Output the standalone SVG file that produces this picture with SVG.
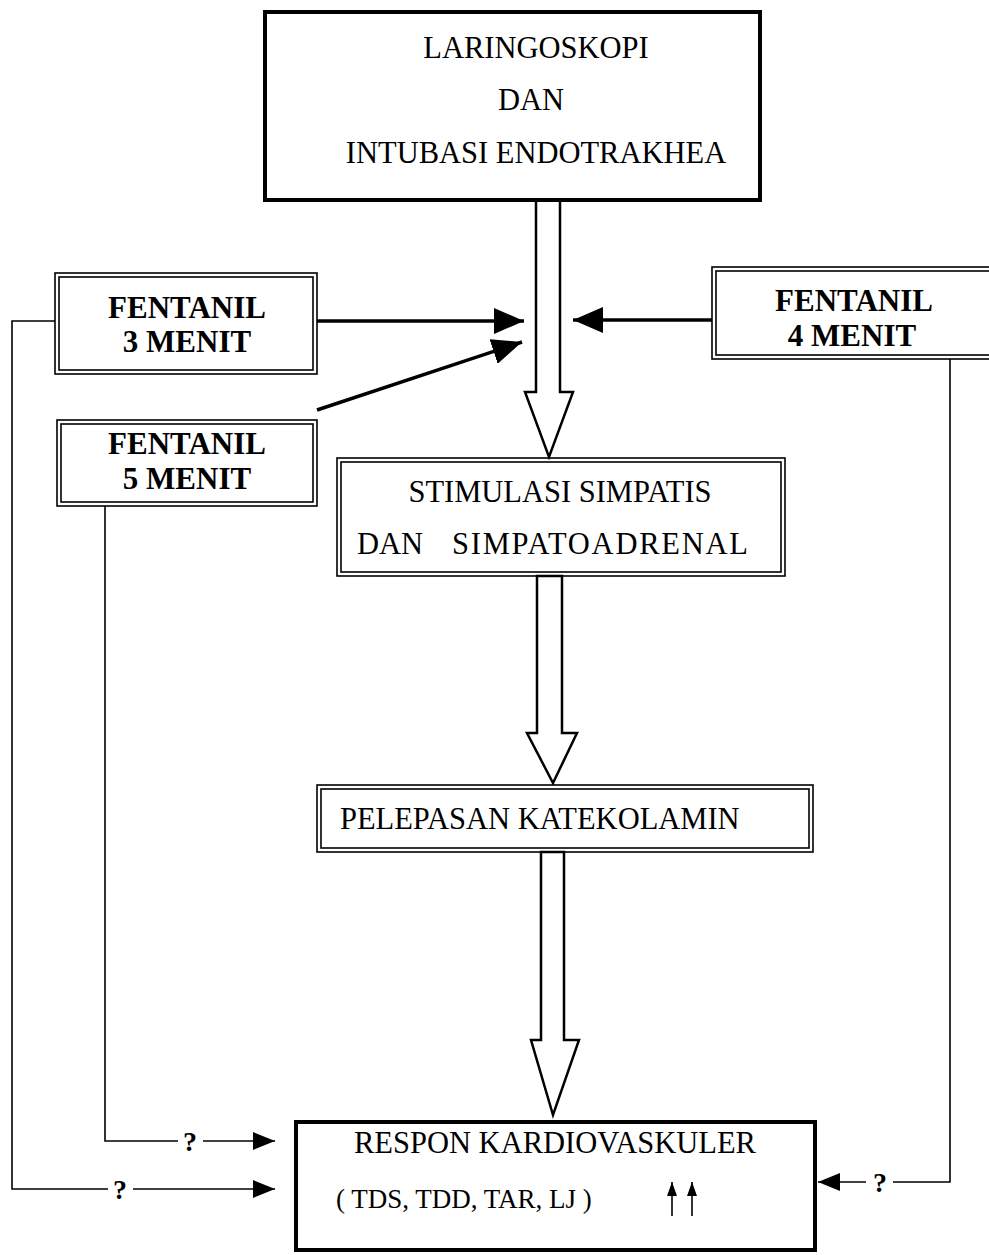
<svg xmlns="http://www.w3.org/2000/svg" width="989" height="1255" viewBox="0 0 989 1255">
<style>
.t{font-family:"Liberation Serif","Times New Roman",serif;font-size:30.5px;fill:#000}
.b{font-family:"Liberation Serif","Times New Roman",serif;font-size:31px;font-weight:bold;fill:#000}
.q{font-family:"Liberation Serif","Times New Roman",serif;font-size:28px;font-weight:bold;fill:#000}
.thick{fill:#fff;stroke:#000;stroke-width:4}
.dbl{fill:none;stroke:#000;stroke-width:1.6}
.hollow{fill:#fff;stroke:#000;stroke-width:2.5;stroke-linejoin:miter}
.ln{fill:none;stroke:#000;stroke-width:1.6}
.bl{fill:none;stroke:#000;stroke-width:3.5}
</style>
<defs>
<marker id="big" markerUnits="userSpaceOnUse" markerWidth="30" markerHeight="26" refX="30" refY="13" orient="auto"><path d="M0,0 L30,13 L0,26 z" fill="#000"/></marker>
<marker id="sm" markerUnits="userSpaceOnUse" markerWidth="22" markerHeight="18" refX="22" refY="9" orient="auto"><path d="M0,0 L22,9 L0,18 z" fill="#000"/></marker>
<marker id="up" markerUnits="userSpaceOnUse" markerWidth="14" markerHeight="10" refX="14" refY="5" orient="auto"><path d="M0,0 L14,5 L0,10 z" fill="#000"/></marker>
</defs>
<rect width="989" height="1255" fill="#fff"/>

<g id="connectors">
<polygon class="hollow" points="536,200 560,200 560,392 573,392 549,457 525,392 536,392"/>
<polygon class="hollow" points="537,576 562,576 562,733 577,733 553,783 527,733 537,733"/>
<polygon class="hollow" points="541,852 564,852 564,1040 579,1040 553,1115 531,1040 541,1040"/>
<line class="bl" x1="317" y1="321" x2="524" y2="321" marker-end="url(#big)"/>
<line class="bl" x1="317" y1="410" x2="522" y2="342" marker-end="url(#big)"/>
<line class="bl" x1="712" y1="320" x2="573" y2="320" marker-end="url(#big)"/>
<polyline class="ln" points="55,321 12,321 12,1189 108,1189"/>
<line class="ln" x1="133" y1="1189" x2="275" y2="1189" marker-end="url(#sm)"/>
<text class="q" x="120" y="1199" text-anchor="middle">?</text>
<polyline class="ln" points="105,506 105,1141 178,1141"/>
<line class="ln" x1="203" y1="1141" x2="275" y2="1141" marker-end="url(#sm)"/>
<text class="q" x="190" y="1151" text-anchor="middle">?</text>
<polyline class="ln" points="950,359 950,1182 893,1182"/>
<line class="ln" x1="866" y1="1182" x2="818" y2="1182" marker-end="url(#sm)"/>
<text class="q" x="880" y="1192" text-anchor="middle">?</text>
</g>

<g id="n-laringoskopi">
<rect class="thick" x="265" y="12" width="495" height="188"/>
<text class="t" x="536" y="58" text-anchor="middle">LARINGOSKOPI</text>
<text class="t" x="531" y="110" text-anchor="middle">DAN</text>
<text class="t" x="536" y="163" text-anchor="middle">INTUBASI ENDOTRAKHEA</text>
</g>

<g id="n-fentanil3">
<rect class="dbl" x="55" y="273" width="262" height="101" fill="#fff"/>
<rect class="dbl" x="59" y="277" width="254" height="93"/>
<text class="b" x="187" y="318" text-anchor="middle">FENTANIL</text>
<text class="b" x="187" y="352" text-anchor="middle">3 MENIT</text>
</g>

<g id="n-fentanil5">
<rect class="dbl" x="57" y="420" width="260" height="86" fill="#fff"/>
<rect class="dbl" x="61" y="424" width="252" height="78"/>
<text class="b" x="187" y="454" text-anchor="middle">FENTANIL</text>
<text class="b" x="187" y="489" text-anchor="middle">5 MENIT</text>
</g>

<g id="n-fentanil4">
<rect class="dbl" x="712" y="267" width="285" height="92" fill="#fff"/>
<rect class="dbl" x="716" y="271" width="285" height="84"/>
<text class="b" x="854" y="311" text-anchor="middle">FENTANIL</text>
<text class="b" x="852" y="346" text-anchor="middle">4 MENIT</text>
</g>

<g id="n-stimulasi">
<rect class="dbl" x="337" y="458" width="448" height="118" fill="#fff"/>
<rect class="dbl" x="341" y="462" width="440" height="110"/>
<text class="t" x="560" y="502" text-anchor="middle">STIMULASI SIMPATIS</text>
<text class="t" y="554"><tspan x="357">DAN</tspan><tspan x="452" textLength="296" lengthAdjust="spacing">SIMPATOADRENAL</tspan></text>
</g>

<g id="n-pelepasan">
<rect class="dbl" x="317" y="785" width="496" height="67" fill="#fff"/>
<rect class="dbl" x="321" y="789" width="488" height="59"/>
<text class="t" x="340" y="829">PELEPASAN KATEKOLAMIN</text>
</g>

<g id="n-respon">
<rect class="thick" x="296" y="1122" width="519" height="128"/>
<text class="t" x="555" y="1153" text-anchor="middle">RESPON KARDIOVASKULER</text>
<text class="t" x="336" y="1208" style="font-size:27px">( TDS, TDD, TAR, LJ )</text>
<line class="ln" x1="672" y1="1216" x2="672" y2="1182" marker-end="url(#up)"/>
<line class="ln" x1="692" y1="1216" x2="692" y2="1182" marker-end="url(#up)"/>
</g>
</svg>
